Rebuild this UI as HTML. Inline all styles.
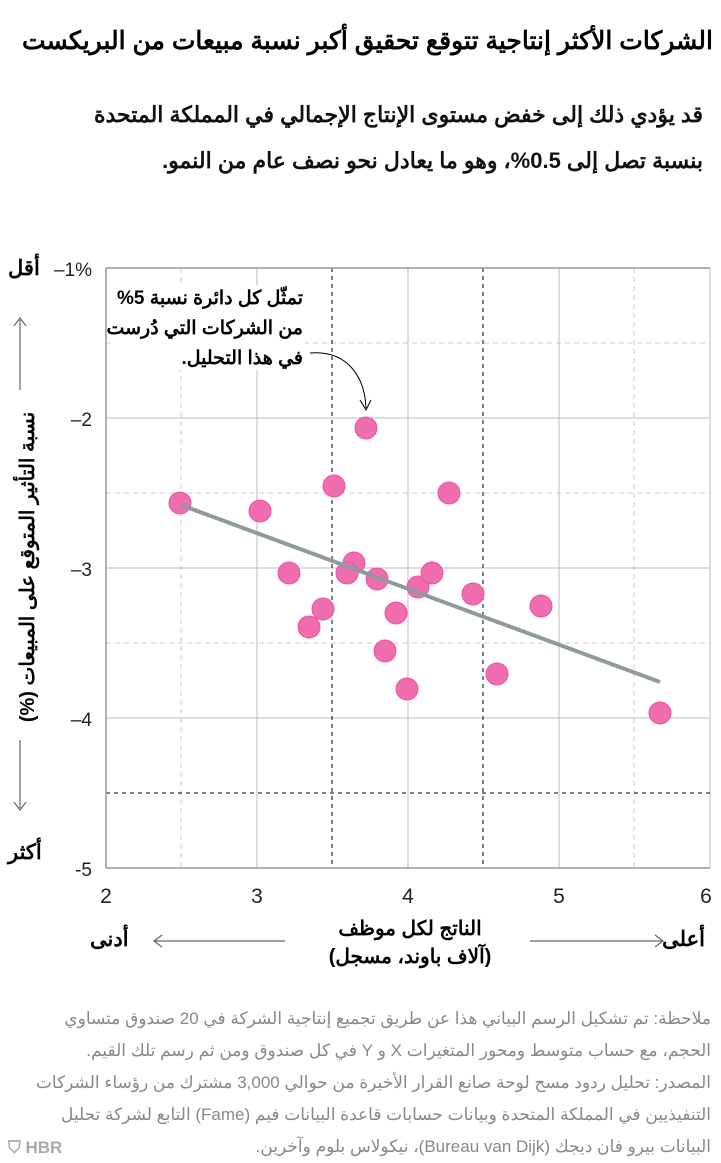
<!DOCTYPE html>
<html><head><meta charset="utf-8"><style>
body{margin:0;width:721px;height:1163px;background:#fff;font-family:"Liberation Sans","Noto Sans CJK SC",sans-serif;overflow:hidden;position:relative}
.t{position:absolute;direction:rtl;white-space:nowrap}
</style></head><body>
<svg width="721" height="1163" style="position:absolute;left:0;top:0" font-family="Liberation Sans, Noto Sans CJK SC, sans-serif">
<g stroke="#ccc" stroke-dasharray="5,4" stroke-width="1">
<line x1="181" y1="268" x2="181" y2="868"/><line x1="634" y1="268" x2="634" y2="868"/>
<line x1="106" y1="343" x2="710" y2="343"/><line x1="106" y1="493" x2="710" y2="493"/><line x1="106" y1="643" x2="710" y2="643"/>
</g>
<g stroke="#bbb" stroke-width="1">
<line x1="257" y1="268" x2="257" y2="868"/><line x1="408" y1="268" x2="408" y2="868"/><line x1="559" y1="268" x2="559" y2="868"/><line x1="710" y1="268" x2="710" y2="868"/>
<line x1="106" y1="418" x2="710" y2="418"/><line x1="106" y1="568" x2="710" y2="568"/><line x1="106" y1="718" x2="710" y2="718"/>
</g>
<g stroke="#000" stroke-dasharray="4,4" stroke-width="1">
<line x1="332" y1="268" x2="332" y2="868"/><line x1="483" y1="268" x2="483" y2="868"/><line x1="106" y1="793" x2="710" y2="793"/>
</g>
<g stroke="#999" stroke-width="1.5"><line x1="106" y1="268" x2="710" y2="268"/><line x1="106" y1="868" x2="710" y2="868"/><line x1="106" y1="268" x2="106" y2="868"/></g>
<rect x="112" y="285" width="193" height="85" fill="#fff"/>
<g fill="#f06eb0" stroke="#e8559e" stroke-width="1">
<circle cx="180" cy="503" r="11"/><circle cx="260" cy="511" r="11"/><circle cx="289" cy="573" r="11"/><circle cx="334" cy="486" r="11"/><circle cx="323" cy="609" r="11"/><circle cx="309" cy="627" r="11"/><circle cx="354" cy="563" r="11"/><circle cx="347" cy="573" r="11"/><circle cx="377" cy="579" r="11"/><circle cx="366" cy="428" r="11"/><circle cx="396" cy="613" r="11"/><circle cx="385" cy="651" r="11"/><circle cx="418" cy="587" r="11"/><circle cx="432" cy="573" r="11"/><circle cx="407" cy="689" r="11"/><circle cx="449" cy="493" r="11"/><circle cx="473" cy="594" r="11"/><circle cx="497" cy="674" r="11"/><circle cx="541" cy="606" r="11"/><circle cx="660" cy="713" r="11"/>
</g>
<line x1="181" y1="505" x2="660" y2="682" stroke="#909a9e" stroke-width="4"/>
<path d="M310 353 C350 350 365 380 366 408" fill="none" stroke="#000" stroke-width="1"/>
<path d="M360 400 L366 410 L371 400" fill="none" stroke="#000" stroke-width="1"/>
<g font-size="19" fill="#222" text-anchor="end">
<text x="92" y="276">–1%</text><text x="92" y="426">–2</text><text x="92" y="576">–3</text><text x="92" y="726">–4</text><text x="92" y="876">-5</text>
</g>
<g font-size="21" fill="#222" text-anchor="middle">
<text x="106" y="903">2</text><text x="257" y="903">3</text><text x="408" y="903">4</text><text x="559" y="903">5</text><text x="706" y="903">6</text>
</g>
<g stroke="#666" stroke-width="1.2" fill="none">
<line x1="20" y1="320" x2="20" y2="390"/><path d="M14 326 L20 318 L26 326"/>
<line x1="20" y1="740" x2="20" y2="808"/><path d="M14 802 L20 810 L26 802"/>
<line x1="155" y1="941" x2="285" y2="941"/><path d="M162 935 L154 941 L162 947"/>
<line x1="530" y1="941" x2="662" y2="941"/><path d="M655 935 L663 941 L655 947"/>
</g>
<text x="8" y="1153" font-size="17" font-weight="bold" fill="#aaa">⛉ HBR</text>
</svg>
<div class="t" style="top:26px;right:8px;font-size:25px;font-weight:bold;color:#000">الشركات الأكثر إنتاجية تتوقع تحقيق أكبر نسبة مبيعات من البريكست</div>
<div class="t" style="top:92px;right:18px;font-size:22px;line-height:46px;color:#111;font-weight:bold">قد يؤدي ذلك إلى خفض مستوى الإنتاج الإجمالي في المملكة المتحدة<br>بنسبة تصل إلى 0.5%، وهو ما يعادل نحو نصف عام من النمو.</div>
<div class="t" style="top:284px;right:418px;font-size:19px;line-height:30px;font-weight:bold">تمثّل كل دائرة نسبة 5%<br>من الشركات التي دُرست<br>في هذا التحليل.</div>
<div class="t" style="top:554px;left:-132px;width:320px;text-align:center;font-size:20px;line-height:26px;font-weight:bold;transform:rotate(-90deg)">نسبة التأثير المتوقع على المبيعات (%)</div>
<div class="t" style="top:256px;left:8px;font-size:21px;font-weight:bold">أقل</div>
<div class="t" style="top:840px;left:8px;font-size:21px;font-weight:bold">أكثر</div>
<div class="t" style="top:927px;right:16px;font-size:21px;font-weight:bold">أعلى</div>
<div class="t" style="top:927px;left:90px;font-size:21px;font-weight:bold">أدنى</div>
<div class="t" style="top:915px;left:300px;width:220px;text-align:center;font-size:20px;line-height:28px;font-weight:bold">الناتج لكل موظف<br>(آلاف باوند، مسجل)</div>
<div class="t" style="top:1003px;right:10px;font-size:17px;line-height:32px;color:#888">ملاحظة: تم تشكيل الرسم البياني هذا عن طريق تجميع إنتاجية الشركة في 20 صندوق متساوي<br>الحجم، مع حساب متوسط ومحور المتغيرات X و Y في كل صندوق ومن ثم رسم تلك القيم.<br>المصدر: تحليل ردود مسح لوحة صانع القرار الأخيرة من حوالي 3,000 مشترك من رؤساء الشركات<br>التنفيذيين في المملكة المتحدة وبيانات حسابات قاعدة البيانات فيم (Fame) التابع لشركة تحليل<br>البيانات بيرو فان ديجك (Bureau van Dijk)، نيكولاس بلوم وآخرين.</div>
</body></html>
